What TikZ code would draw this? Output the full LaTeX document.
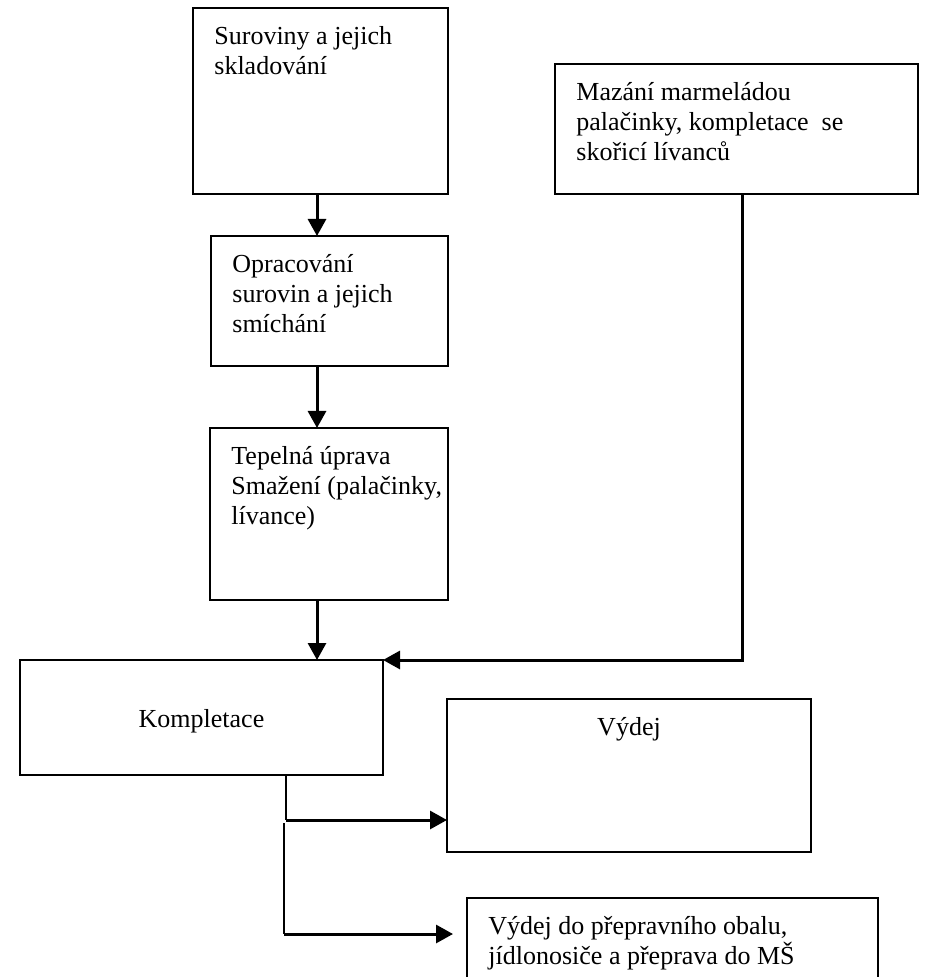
\documentclass[tikz,border=0pt]{standalone}
\usepackage{fontspec}
\setmainfont{Liberation Serif}
\usetikzlibrary{arrows.meta,positioning}
\tikzset{
	box/.style={draw, rectangle, line width=1pt, anchor=north west, inner sep=0pt, outer sep=0pt, font=\fontsize{13}{15}\selectfont},
	boxtext/.style={anchor=north west, align=left, inner sep=0pt, xshift=10.5pt, yshift=-9pt, font=\fontsize{13}{15}\selectfont},
	midtext/.style={anchor=north, inner sep=0pt, font=\fontsize{13}{15}\selectfont},
	flow/.style={color=black, line width=1pt},
	diredge/.style={->,>={Triangle[width=9pt,length=8.5pt]},color=black, line width=1.5pt}
}
\begin{document}
\begin{tikzpicture}[x=0.5pt,y=-0.5pt]
				\clip (0,0) rectangle (926,977);
				%%%% boxes
				\node[box,minimum width=127.5pt,minimum height=93pt,label={[boxtext]north west:{Suroviny a jejich\\skladování}}] (sur) at (193,8) {};
				\node[box,minimum width=181.5pt,minimum height=65pt,label={[boxtext]north west:{Mazání marmeládou\\palačinky, kompletace\ \ se\\skořicí lívanců}}] (maz) at (555,64) {};
				\node[box,minimum width=118.5pt,minimum height=65pt,label={[boxtext]north west:{Opracování\\surovin a jejich\\smíchání}}] (opr) at (211,236) {};
				\node[box,minimum width=119pt,minimum height=86pt,label={[boxtext]north west:{Tepelná úprava\\Smažení (palačinky,\\lívance)}}] (tep) at (210,428) {};
				\node[box,minimum width=181.5pt,minimum height=57.5pt,label={[midtext,yshift=-24.5pt]north:Kompletace}] (komp) at (20,660) {};
				\node[box,minimum width=182pt,minimum height=76.5pt,label={[midtext,yshift=-9pt]north:Výdej}] (vydej) at (447,699) {};
				\node[box,minimum width=205.5pt,minimum height=46pt,label={[boxtext]north west:{Výdej do přepravního obalu,\\jídlonosiče a přeprava do MŠ}}] (doprava) at (467,898) {};
				
				%%%% arrows
				\coordinate (axis) at (317,0);
				\coordinate (side) at (742,0);
				\draw[diredge] (sur.south -| axis) -- (opr.north -| axis);
				\draw[diredge] (opr.south -| axis) -- (tep.north -| axis);
				\draw[diredge] (tep.south -| axis) -- (komp.north -| axis);
				\draw[diredge] (maz.south -| side) |- (komp.north east);
				
				%%%% vydej
				\coordinate (fork) at (286,820);
				\coordinate (split) at (284,823);
				\coordinate (bend) at (284,934);
				\draw[flow] (komp.south -| fork) -- (fork);
				\draw[diredge] (fork) -- (fork -| vydej.west);
				\draw[flow] (split) -- (bend);
				\draw[diredge,shorten >=7pt] (bend) -- (bend -| doprava.west);
\end{tikzpicture}
\end{document}
